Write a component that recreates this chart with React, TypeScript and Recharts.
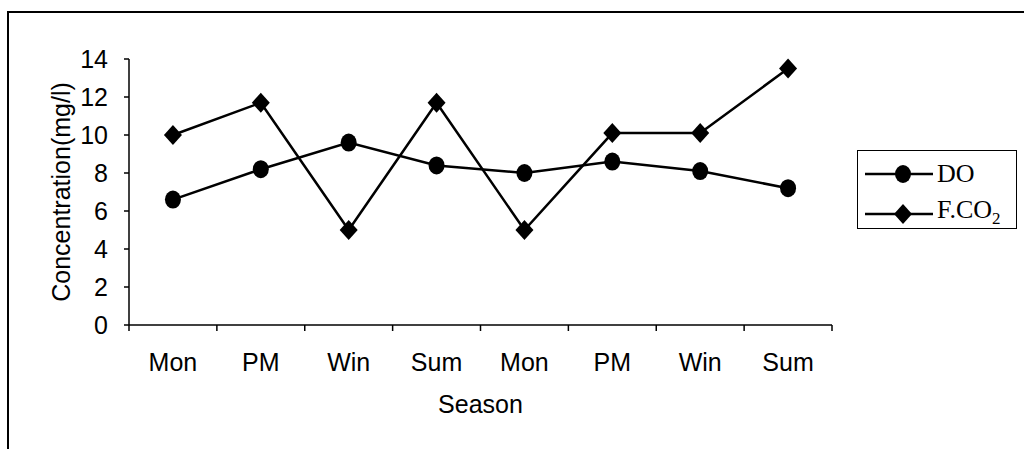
import React from 'react'
import { LineChart, Line, XAxis, YAxis } from 'recharts'

const seasons = ['Mon', 'PM', 'Win', 'Sum', 'Mon', 'PM', 'Win', 'Sum']
const doValues = [6.6, 8.2, 9.6, 8.4, 8.0, 8.6, 8.1, 7.2]
const co2Values = [10.0, 11.7, 5.0, 11.7, 5.0, 10.1, 10.1, 13.5]
const yTicks = [0, 2, 4, 6, 8, 10, 12, 14]

const data = seasons.map((season, i) => ({ season, DO: doValues[i], CO2: co2Values[i] }))

const W = 1024
const H = 449
const MARGIN = { top: 59, right: 192, bottom: 0, left: 0 }
const Y_AXIS_W = 129
const X_AXIS_H = 124
const PLOT_W = W - MARGIN.left - MARGIN.right - Y_AXIS_W
const HALF_BAND = PLOT_W / seasons.length / 2

const sans = '"Liberation Sans", Arial, sans-serif'
const serif = '"Liberation Serif", "Times New Roman", serif'

function SeasonTick(props: any) {
  const { x, y, payload, index } = props
  return (
    <g>
      <line x1={x - HALF_BAND} y1={y} x2={x - HALF_BAND} y2={y + 6} stroke="#000" strokeWidth={1.5} />
      {index === seasons.length - 1 && (
        <line x1={x + HALF_BAND} y1={y} x2={x + HALF_BAND} y2={y + 6} stroke="#000" strokeWidth={1.5} />
      )}
      <text x={x} y={y + 46} textAnchor="middle" fontSize={25} fontFamily={sans} fill="#000">
        {payload.value}
      </text>
    </g>
  )
}

function CircleDot(props: any) {
  const { cx, cy, index } = props
  return <ellipse key={`do-${index}`} cx={cx} cy={cy} rx={8} ry={9} fill="#000" />
}

function DiamondDot(props: any) {
  const { cx, cy, index } = props
  return (
    <polygon
      key={`co2-${index}`}
      points={`${cx},${cy - 10} ${cx + 9},${cy} ${cx},${cy + 10} ${cx - 9},${cy}`}
      fill="#000"
    />
  )
}

function LegendBox() {
  return (
    <div
      style={{
        position: 'absolute',
        left: 857,
        top: 150,
        width: 160,
        height: 79,
        border: '1.5px solid #000',
        boxSizing: 'border-box',
        fontFamily: serif,
        fontSize: 26,
        color: '#000',
      }}
    >
      <div style={{ position: 'absolute', left: 7, top: 10, display: 'flex', alignItems: 'center' }}>
        <svg width={70} height={22}>
          <line x1={0} y1={11} x2={68} y2={11} stroke="#000" strokeWidth={2.5} />
          <ellipse cx={38} cy={11} rx={8} ry={9} fill="#000" />
        </svg>
        <span style={{ marginLeft: 2, lineHeight: '25px' }}>DO</span>
      </div>
      <div style={{ position: 'absolute', left: 7, top: 46, display: 'flex', alignItems: 'center' }}>
        <svg width={70} height={22}>
          <line x1={0} y1={11} x2={68} y2={11} stroke="#000" strokeWidth={2.5} />
          <polygon points="38,1 47,11 38,21 29,11" fill="#000" />
        </svg>
        <span style={{ marginLeft: 2, lineHeight: '25px' }}>
          F.CO<sub style={{ fontSize: 17 }}>2</sub>
        </span>
      </div>
    </div>
  )
}

export default function App() {
  return (
    <div
      style={{
        position: 'absolute',
        left: 0,
        top: 0,
        width: W,
        height: H,
        overflow: 'hidden',
        background: '#fff',
      }}
    >
      <div
        style={{
          position: 'absolute',
          left: 7,
          top: 11,
          width: W,
          height: H,
          borderLeft: '2px solid #000',
          borderTop: '2px solid #000',
        }}
      />
      <div style={{ position: 'absolute', left: 0, top: 0 }}>
        <LineChart width={W} height={H} data={data} margin={MARGIN}>
          <XAxis
            dataKey="season"
            padding={{ left: HALF_BAND, right: HALF_BAND }}
            height={X_AXIS_H}
            stroke="#000"
            strokeWidth={1.5}
            tickLine={false}
            tickSize={0}
            tickMargin={0}
            interval={0}
            tick={(p: any) => <SeasonTick {...p} />}
            label={{
              value: 'Season',
              position: 'insideBottom',
              offset: 36,
              fontSize: 25,
              fontFamily: sans,
              fill: '#000',
            }}
          />
          <YAxis
            width={Y_AXIS_W}
            domain={[0, 14]}
            ticks={yTicks}
            interval={0}
            stroke="#000"
            strokeWidth={1.5}
            tickSize={5}
            tickMargin={16}
            tick={{ fontSize: 25, fontFamily: sans, fill: '#000' }}
            label={{
              value: 'Concentration(mg/l)',
              angle: -90,
              position: 'center',
              dx: -3,
              fontSize: 25,
              fontFamily: sans,
              fill: '#000',
            }}
          />
          <Line
            dataKey="DO"
            stroke="#000"
            strokeWidth={2.5}
            dot={CircleDot}
            activeDot={false}
            isAnimationActive={false}
          />
          <Line
            dataKey="CO2"
            stroke="#000"
            strokeWidth={2.5}
            dot={DiamondDot}
            activeDot={false}
            isAnimationActive={false}
          />
        </LineChart>
      </div>
      <LegendBox />
    </div>
  )
}
